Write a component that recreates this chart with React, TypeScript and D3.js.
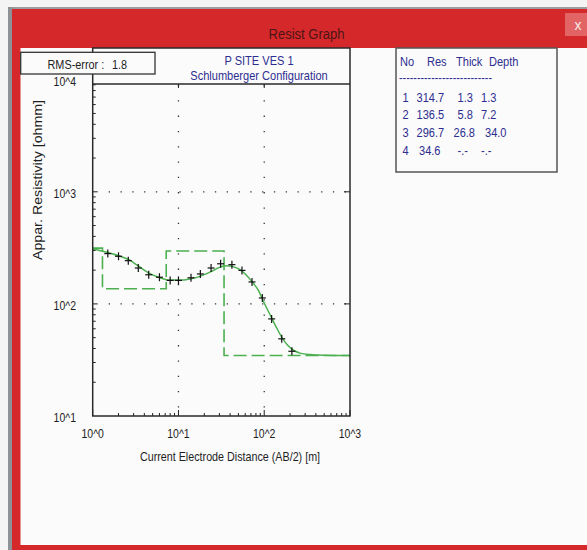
import React from 'react';
import * as d3 from 'd3';

// layered model (inversion result)
const layerNo = [1, 2, 3, 4];
const layerRes = [314.7, 136.5, 296.7, 34.6];
const layerThick = [1.3, 5.8, 26.8];
const layerDepth = [1.3, 7.2, 34.0];

// field data (AB/2 in m, apparent resistivity in ohmm)
const obsAB2 = [1.5, 2, 2.6, 3.4, 4.5, 6, 8, 10, 14, 18, 24, 31, 42, 55, 72, 95, 122, 160, 210];
const obsRho = [281, 266, 243, 209, 182, 173, 162, 162, 171, 185, 209, 228, 224, 199, 157, 113, 73.5, 48.8, 37.8];

// computed (fitted) curve
const fitAB2 = [1, 1.43, 2.08, 2.65, 3.37, 4.66, 6.09, 7.96, 10.4, 13.6, 17.8, 23.9, 30.5, 35.8, 43.2, 52.2, 61.3, 72, 84.5, 99.3, 117, 137, 161, 189, 222, 261, 342, 512, 1000];
const fitRho = [311, 290, 266, 248, 219, 186, 171, 163, 163, 167, 176, 194, 213, 219, 215, 202, 182, 158, 134, 103, 80, 62.8, 50.1, 42.5, 38.4, 36.4, 35.3, 34.8, 34.6];

const xTickValues = [1, 10, 100, 1000];
const xTickLabels = ['10^0', '10^1', '10^2', '10^3'];
const yTickValues = [10, 100, 1000, 10000];
const yTickLabels = ['10^1', '10^2', '10^3', '10^4'];

const rmsError = 1.8;
const chartTitle = 'P SITE VES 1';
const chartSubtitle = 'Schlumberger Configuration';

const FONT = 'Liberation Sans, Arial, sans-serif';
const GREEN = '#4cb050';
const INK = '#2d2d90';

const Txt = ({ x, y, children, anchor = 'start', size = 12, fill = '#1e1e1e', sx = 0.86 }: any) => (
  <text
    transform={`translate(${x},${y}) scale(${sx},1)`}
    textAnchor={anchor}
    fontSize={size}
    fill={fill}
    fontFamily={FONT}
  >
    {children}
  </text>
);

export default function App() {
  const W = 587, H = 550;
  const left = 92.7, right = 350, top = 84, bottom = 416;

  const x = d3.scaleLog().domain([1, 1000]).range([left, right]);
  const y = d3.scaleLog().domain([10, 10000]).range([bottom, 79.7]);

  // minor ticks
  const minorX: number[] = [];
  [1, 10, 100].forEach(d => { for (let k = 2; k <= 9; k++) minorX.push(d * k); });
  const minorY: number[] = [];
  [10, 100, 1000].forEach(d => { for (let k = 2; k <= 9; k++) minorY.push(d * k); });

  // step model
  const stepPts: [number, number][] = [[1, layerRes[0]]];
  layerDepth.forEach((dp, i) => {
    stepPts.push([dp, layerRes[i]]);
    stepPts.push([dp, layerRes[i + 1]]);
  });
  stepPts.push([1000, layerRes[layerRes.length - 1]]);
  const stepLine = d3.line<[number, number]>().x(d => x(d[0])).y(d => y(d[1]));

  const fitLine = d3.line<number>()
    .x((_, i) => x(fitAB2[i]))
    .y(d => y(d))
    .curve(d3.curveMonotoneX);

  const rowY = [101.5, 119, 136.5, 154.5];

  return (
    <svg width={W} height={H} style={{ position: 'absolute', left: 0, top: 0 }}>
      {/* desktop + window chrome */}
      <rect x={0} y={0} width={W} height={H} fill="#f4f4f4" />
      <rect x={8} y={7} width={W - 8} height={3} fill="#9c9c9c" />
      <rect x={8} y={7} width={5} height={H - 7} fill="#8e9296" />
      <rect x={12} y={9} width={W - 12} height={H - 9} fill="#d5282b" />
      <rect x={565} y={13} width={22} height={23} fill="#e26464" />
      <Txt x={578} y={30} anchor="middle" size={14} fill="#f6eaea" sx={1}>x</Txt>
      <Txt x={306.5} y={38.5} anchor="middle" size={15.5} fill="#4d1616" sx={0.84}>Resist Graph</Txt>
      <rect x={20.5} y={48} width={W - 20.5} height={497} fill="#fbfbfb" />

      {/* gridlines */}
      <g stroke="#333" strokeWidth={1.3}>
        {[10, 100].map(v => (
          <line key={'gx' + v} x1={x(v)} x2={x(v)} y1={top + 1} y2={bottom} strokeDasharray="1.3 14" />
        ))}
        {[100, 1000].map(v => (
          <line key={'gy' + v} x1={left + 16} x2={right} y1={y(v)} y2={y(v)} strokeDasharray="1.3 10.5" />
        ))}
      </g>

      {/* ticks */}
      <g stroke="#222" strokeWidth={1}>
        {minorX.map(v => <line key={'mx' + v} x1={x(v)} x2={x(v)} y1={bottom} y2={bottom - 3} />)}
        {xTickValues.map(v => <line key={'tx' + v} x1={x(v)} x2={x(v)} y1={bottom} y2={bottom - 6} />)}
        {[10, 100].map(v => <line key={'ttx' + v} x1={x(v)} x2={x(v)} y1={top} y2={top + 4} />)}
        {minorY.filter(v => y(v) > top).map(v => <line key={'my' + v} x1={left} x2={left + 3} y1={y(v)} y2={y(v)} />)}
        {[100, 1000].map(v => <line key={'ty' + v} x1={left} x2={left + 5} y1={y(v)} y2={y(v)} />)}
        {[100, 1000].map(v => <line key={'try' + v} x1={right} x2={right - 6} y1={y(v)} y2={y(v)} />)}
      </g>

      {/* model (dashed) */}
      <path d={stepLine(stepPts) || ''} fill="none" stroke={GREEN} strokeWidth={1.6} strokeDasharray="13 5" />
      {/* fitted curve */}
      <path d={fitLine(fitRho) || ''} fill="none" stroke={GREEN} strokeWidth={1.5} />
      {/* observed data */}
      <g stroke="#111" strokeWidth={1.2}>
        {obsRho.map((r, i) => {
          const cx = x(obsAB2[i]), cy = y(r);
          return (
            <g key={'o' + i}>
              <line x1={cx - 3.5} x2={cx + 3.5} y1={cy} y2={cy} />
              <line x1={cx} x2={cx} y1={cy - 4} y2={cy + 4} />
            </g>
          );
        })}
      </g>

      {/* frames */}
      <g fill="none" stroke="#2a2a2a" strokeWidth={1.5}>
        <rect x={left} y={48} width={right - left} height={bottom - 48} />
        <line x1={left} x2={right} y1={top} y2={top} />
        <rect x={20.7} y={52.3} width={134.3} height={21.7} fill="#fbfbfb" stroke="#333" strokeWidth={1.3} />
        <rect x={396} y={48} width={161} height={124} stroke="#555" strokeWidth={1.5} />
      </g>

      {/* titles */}
      <Txt x={259} y={64.5} anchor="middle" size={13} fill={INK} sx={0.85}>{chartTitle}</Txt>
      <Txt x={259} y={79.5} anchor="middle" size={13} fill={INK} sx={0.85}>{chartSubtitle}</Txt>
      <Txt x={47.5} y={68.5} size={12.5} sx={0.87}>RMS-error :</Txt>
      <Txt x={112} y={68.5} size={12.5} sx={0.87}>{rmsError.toFixed(1)}</Txt>

      {/* axis labels */}
      {xTickValues.map((v, i) => (
        <Txt key={'xl' + v} x={x(v)} y={437.5} anchor="middle" size={12.5} sx={0.84}>{xTickLabels[i]}</Txt>
      ))}
      {yTickValues.map((v, i) => (
        <Txt key={'yl' + v} x={76} y={y(v) + 6} anchor="end" size={12.5} sx={0.84}>{yTickLabels[i]}</Txt>
      ))}
      <Txt x={230} y={461} anchor="middle" size={12.5} sx={0.86}>Current Electrode Distance (AB/2) [m]</Txt>
      <text
        transform="translate(41.5,180) rotate(-90)"
        textAnchor="middle"
        fontSize={12.5}
        fill="#1e1e1e"
        fontFamily={FONT}
        textLength={160}
        lengthAdjust="spacingAndGlyphs"
      >
        Appar. Resistivity [ohmm]
      </text>

      {/* layer table */}
      <Txt x={400} y={66} size={13} fill={INK} sx={0.85}>No</Txt>
      <Txt x={427} y={66} size={13} fill={INK} sx={0.85}>Res</Txt>
      <Txt x={456} y={66} size={13} fill={INK} sx={0.85}>Thick</Txt>
      <Txt x={489} y={66} size={13} fill={INK} sx={0.85}>Depth</Txt>
      <text x={399} y={82} fontSize={13} fill={INK} fontFamily={FONT} textLength={93} lengthAdjust="spacingAndGlyphs">
        {'-'.repeat(26)}
      </text>
      {layerNo.map((n, i) => {
        const th = i < layerThick.length ? layerThick[i].toFixed(1) : '-.-';
        const dp = i < layerDepth.length ? layerDepth[i].toFixed(1) : '-.-';
        return (
          <g key={'row' + n}>
            <Txt x={402.5} y={rowY[i]} size={13} fill={INK} sx={0.85}>{n}</Txt>
            <Txt x={i === 3 ? 419 : 416.5} y={rowY[i]} size={13} fill={INK} sx={0.85}>{layerRes[i].toFixed(1)}</Txt>
            <Txt x={th.length < 4 ? 457.5 : 453.5} y={rowY[i]} size={13} fill={INK} sx={0.85}>{th}</Txt>
            <Txt x={dp.length < 4 ? 481 : 485} y={rowY[i]} size={13} fill={INK} sx={0.85}>{dp}</Txt>
          </g>
        );
      })}
    </svg>
  );
}
